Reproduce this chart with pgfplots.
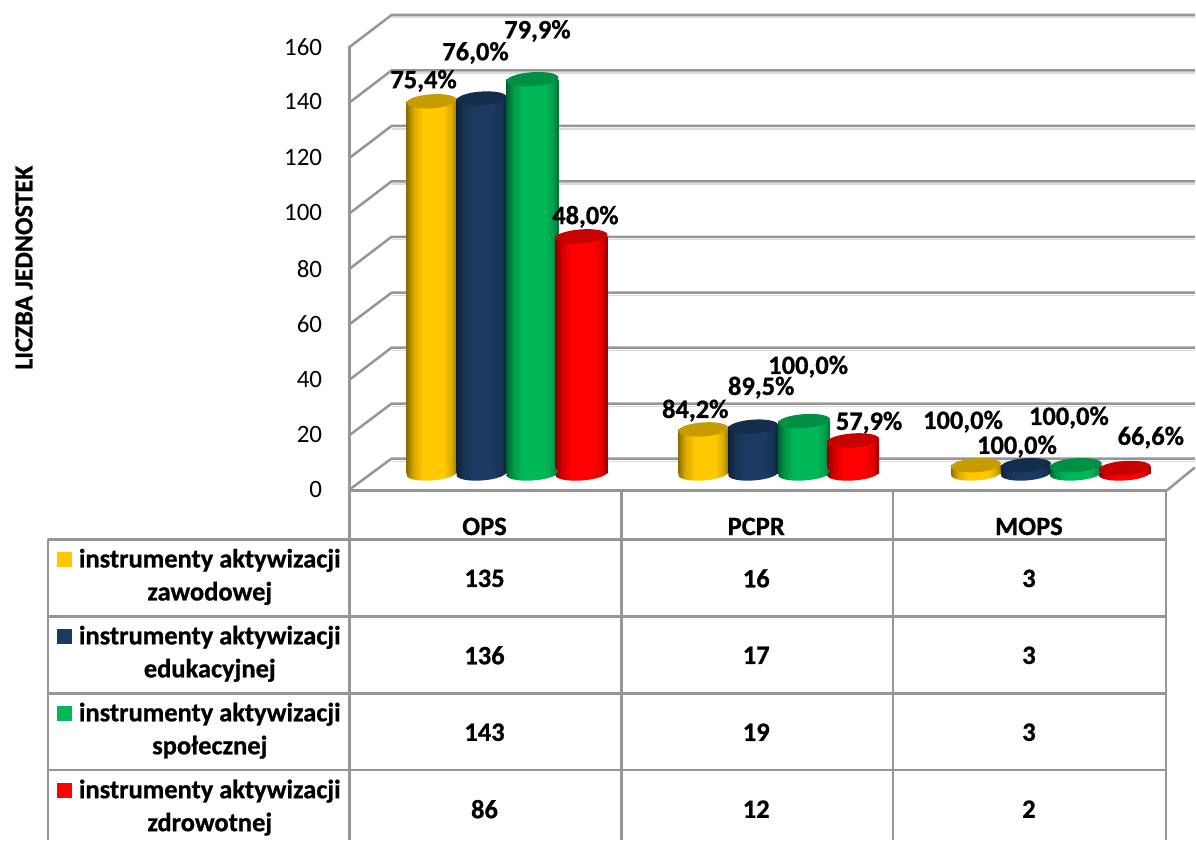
\documentclass[border=0pt]{standalone}
\usepackage{fontspec}
\setmainfont{Carlito}[BoldFeatures={FakeBold=0.8}]
\usepackage{pgfplots}
\usetikzlibrary{shapes.geometric}
\pgfplotsset{compat=1.18}

\definecolor{cyel}{HTML}{FFC800}
\definecolor{cnav}{HTML}{1A3A62}
\definecolor{cgre}{HTML}{00B858}
\definecolor{cred}{HTML}{FF0000}
\definecolor{gridc}{HTML}{969696}

% dark edges, bright flat middle
\newcommand\cylshade[1]{%
  \pgfdeclarehorizontalshading{cyl#1}{100bp}{color(0bp)=(#1!55!black); color(25bp)=(#1!55!black);
    color(32bp)=(#1!85!black); color(41bp)=(#1); color(62bp)=(#1); color(70bp)=(#1!85!black);
    color(75bp)=(#1!60!black); color(100bp)=(#1!60!black)}}
\cylshade{cyel} \cylshade{cnav} \cylshade{cgre} \cylshade{cred}

\newcommand\lab{\fontsize{26.5}{30}\selectfont\bfseries}
\newcommand\tick{\fontsize{25}{28}\selectfont}
\newcommand\ytl[2]{\node[anchor=east, font=\tick] at (326,#2) {#1};}
\newcommand\pct[3]{\node[font=\lab] at (#1,#2) {#3\%};}
\newcommand\cell[3]{\node[font=\lab] at (#1,#2) {#3};}
% one row of the legend: first line y, second line y, key top, key bottom, colour, word
\newcommand\legrow[6]{%
  \fill[#5] (57,#3) rectangle (72,#4);
  \node[font=\lab] at (210,#1) {instrumenty aktywizacji};
  \node[font=\lab] at (210,#2) {#6};}
% one cylinder: x, value, width, colour
\newcommand\cyl[4]{%
  \addplot[cyl end={#3pt}{shade, shading=cyl#4}] coordinates {(#1,0)};
  \addplot[cyl body={#3}{cyl#4}] coordinates {(#1,#2)};
  \addplot[cyl end={#3pt}{fill=#4!78!black}] coordinates {(#1,#2)};}

% every axis fills the whole picture, 1 unit in x = 1 pixel
\pgfplotsset{
  canvas/.style={at={(0,0)}, anchor=south west, width=1196pt, height=841pt,
    scale only axis, xmin=0, xmax=1196, axis lines=none, clip=false},
  pixels/.style={canvas, ymin=0, ymax=841, y dir=reverse},
  cyl body/.style n args={2}{ybar, bar shift=0pt, bar width=#1, draw=none,
    shade, shading=#2, forget plot},
  cyl end/.style n args={2}{only marks, mark=none, forget plot, point meta=y,
    nodes near coords={}, every node near coord/.style={ellipse, inner sep=0pt,
      minimum width=#1, minimum height=14pt, anchor=center, rotate=4, #2}},
}

\begin{document}
\begin{tikzpicture}
% walls, grid and table
\begin{axis}[pixels, unbounded coords=jump]
\path (0,0) rectangle (1196,841);
\addplot[gridc!35, line width=1.5pt, forget plot] coordinates {
 (392,17) (1196,17) (nan,nan) (392,73) (1196,73) (nan,nan) (392,129) (1196,129) (nan,nan)
 (392,184) (1196,184) (nan,nan) (392,240) (1196,240) (nan,nan) (392,296) (1196,296) (nan,nan)
 (392,351) (1196,351) (nan,nan) (392,407) (1196,407) (nan,nan) (392,462) (1196,462)
};
\addplot[gridc, line width=2.5pt, forget plot] coordinates {
 (350,47) (392,15) (1196,15) (nan,nan) (350,102.5) (392,70.5) (1196,70.5) (nan,nan)
 (350,158) (392,126) (1196,126) (nan,nan) (350,213.5) (392,181.5) (1196,181.5) (nan,nan)
 (350,269) (392,237) (1196,237) (nan,nan) (350,324.5) (392,293) (1196,293) (nan,nan)
 (350,380) (392,348) (1196,348) (nan,nan) (350,435.5) (392,404) (1196,404) (nan,nan)
 (350,490) (392,459) (1196,459) (nan,nan) (1168,491) (1196,468)
};
\addplot[gridc, line width=2.5pt, forget plot] coordinates {
 (350,46) (350,841) (nan,nan) (622,491) (622,841) (nan,nan) (894,491) (894,841) (nan,nan)
 (1167,491) (1167,841) (nan,nan) (48,540) (48,841) (nan,nan) (350,491) (1168,491) (nan,nan)
 (48,540) (1167,540) (nan,nan) (48,617) (1167,617) (nan,nan) (48,694) (1167,694) (nan,nan)
 (48,771) (1167,771)
};
\end{axis}

% cylinders, y in the units of the chart
\begin{axis}[canvas, ymin=-132.971, ymax=171.739]
\cyl{432}{135}{50}{cyel} \cyl{704}{16}{50}{cyel} \cyl{977}{3}{50}{cyel}
\cyl{482}{136}{50}{cnav} \cyl{754}{17}{50}{cnav} \cyl{1027}{3}{50}{cnav}
\cyl{533}{143}{52}{cgre} \cyl{805}{19}{52}{cgre} \cyl{1077}{3}{52}{cgre}
\cyl{582}{86}{52}{cred}  \cyl{854}{12}{52}{cred} \cyl{1126}{2}{52}{cred}
\end{axis}

% text and legend keys
\begin{axis}[pixels]
\ytl{0}{490} \ytl{20}{435} \ytl{40}{380} \ytl{60}{324} \ytl{80}{269}
\ytl{100}{213} \ytl{120}{158} \ytl{140}{102} \ytl{160}{47}
\node[rotate=90, font=\fontsize{26}{30}\selectfont\bfseries] at (24,268) {LICZBA JEDNOSTEK};

\pct{424}{81}{75,4} \pct{476}{53}{76,0} \pct{538}{31}{79,9} \pct{586}{217}{48,0}
\pct{696}{411}{84,2} \pct{762}{388}{89,5} \pct{809}{367}{100,0} \pct{870}{423}{57,9}
\pct{964}{422}{100,0} \pct{1018}{447}{100,0} \pct{1070}{418}{100,0} \pct{1152}{438}{66,6}

\cell{485}{527}{OPS} \cell{757}{527}{PCPR} \cell{1030}{527}{MOPS}
\cell{485}{579}{135} \cell{757}{579}{16} \cell{1030}{579}{3}
\cell{485}{656}{136} \cell{757}{656}{17} \cell{1030}{656}{3}
\cell{485}{733}{143} \cell{757}{733}{19} \cell{1030}{733}{3}
\cell{485}{810}{86}  \cell{757}{810}{12} \cell{1030}{810}{2}

\legrow{561}{594}{553}{568}{cyel}{zawodowej}
\legrow{638}{671}{630}{645}{cnav}{edukacyjnej}
\legrow{715}{748}{707}{722}{cgre}{społecznej}
\legrow{792}{825}{784}{799}{cred}{zdrowotnej}
\end{axis}
\end{tikzpicture}
\end{document}
